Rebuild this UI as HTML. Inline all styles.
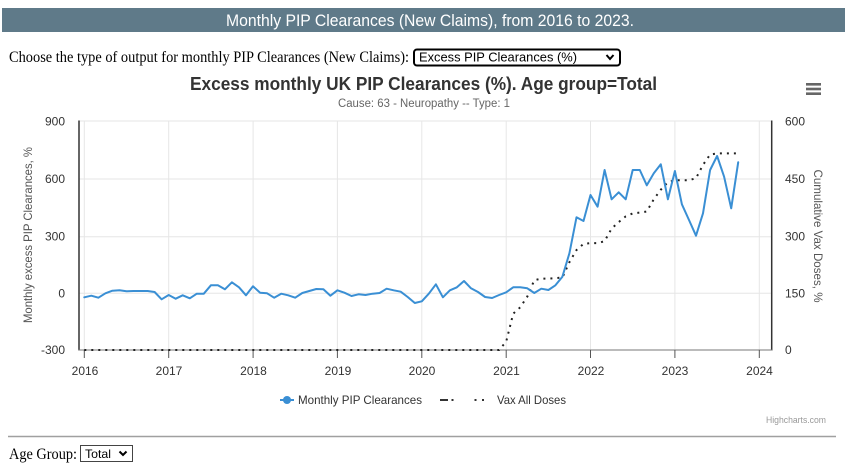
<!DOCTYPE html>
<html>
<head>
<meta charset="utf-8">
<style>
html,body{margin:0;padding:0;background:#fff;}
svg{display:block;}
</style>
</head>
<body>
<svg width="849" height="469" viewBox="0 0 849 469" xmlns="http://www.w3.org/2000/svg">
  <!-- Header bar -->
  <rect x="2" y="8" width="843" height="24" fill="#5f7a89"/>
  <text x="430" y="26" fill="#ffffff" font-family="Liberation Sans Narrow, Liberation Sans, sans-serif" font-size="17" text-anchor="middle" textLength="408" lengthAdjust="spacingAndGlyphs">Monthly PIP Clearances (New Claims), from 2016 to 2023.</text>

  <!-- Choose line -->
  <text x="9" y="62" fill="#000" font-family="Liberation Serif, serif" font-size="16" textLength="400" lengthAdjust="spacingAndGlyphs">Choose the type of output for monthly PIP Clearances (New Claims):</text>
  <rect x="414" y="49.5" width="206" height="16" rx="3" fill="#fff" stroke="#000" stroke-width="2"/>
  <text x="419" y="61.5" fill="#000" font-family="Liberation Sans, sans-serif" font-size="12.5" textLength="158" lengthAdjust="spacingAndGlyphs">Excess PIP Clearances (%)</text>
  <polyline points="606.5,55 610,59 613.5,55" fill="none" stroke="#000" stroke-width="2"/>

  <!-- Chart title -->
  <text x="423.5" y="90" fill="#333" font-family="Liberation Sans, sans-serif" font-size="18" font-weight="bold" text-anchor="middle" textLength="467" lengthAdjust="spacingAndGlyphs">Excess monthly UK PIP Clearances (%). Age group=Total</text>
  <text x="424" y="107" fill="#666" font-family="Liberation Sans, sans-serif" font-size="11.5" text-anchor="middle" textLength="172" lengthAdjust="spacingAndGlyphs">Cause: 63 - Neuropathy -- Type: 1</text>

  <!-- Hamburger -->
  <rect x="806" y="83" width="15" height="2.6" fill="#666"/>
  <rect x="806" y="87.7" width="15" height="2.6" fill="#666"/>
  <rect x="806" y="92.4" width="15" height="2.6" fill="#666"/>

  <!-- Grid lines -->
  <g stroke="#e6e6e6" stroke-width="1">
    <line x1="79" y1="121" x2="771.7" y2="121"/>
    <line x1="79" y1="179" x2="771.7" y2="179"/>
    <line x1="79" y1="236.7" x2="771.7" y2="236.7"/>
    <line x1="79" y1="293.3" x2="771.7" y2="293.3"/>
    <line x1="84.3" y1="121" x2="84.3" y2="350"/>
    <line x1="168.7" y1="121" x2="168.7" y2="350"/>
    <line x1="253.1" y1="121" x2="253.1" y2="350"/>
    <line x1="337.4" y1="121" x2="337.4" y2="350"/>
    <line x1="421.8" y1="121" x2="421.8" y2="350"/>
    <line x1="506.2" y1="121" x2="506.2" y2="350"/>
    <line x1="590.5" y1="121" x2="590.5" y2="350"/>
    <line x1="674.9" y1="121" x2="674.9" y2="350"/>
    <line x1="759.3" y1="121" x2="759.3" y2="350"/>
  </g>

  <!-- Axis lines -->
  <line x1="79" y1="120.5" x2="79" y2="350.5" stroke="#333" stroke-width="1.5"/>
  <line x1="771.7" y1="120.5" x2="771.7" y2="350.5" stroke="#333" stroke-width="1.5"/>
  <line x1="78.5" y1="350" x2="772" y2="350" stroke="#777" stroke-width="1"/>
  <g stroke="#555" stroke-width="1">
    <line x1="84.3" y1="350" x2="84.3" y2="358"/>
    <line x1="168.7" y1="350" x2="168.7" y2="358"/>
    <line x1="253.1" y1="350" x2="253.1" y2="358"/>
    <line x1="337.4" y1="350" x2="337.4" y2="358"/>
    <line x1="421.8" y1="350" x2="421.8" y2="358"/>
    <line x1="506.2" y1="350" x2="506.2" y2="358"/>
    <line x1="590.5" y1="350" x2="590.5" y2="358"/>
    <line x1="674.9" y1="350" x2="674.9" y2="358"/>
    <line x1="759.3" y1="350" x2="759.3" y2="358"/>
  </g>

  <!-- Left axis labels -->
  <g font-family="Liberation Sans, sans-serif" font-size="12" fill="#333" text-anchor="end">
    <text x="65" y="125.5">900</text>
    <text x="65" y="183">600</text>
    <text x="65" y="240.7">300</text>
    <text x="65" y="297.3">0</text>
    <text x="65" y="354">-300</text>
  </g>
  <!-- Right axis labels -->
  <g font-family="Liberation Sans, sans-serif" font-size="12" fill="#333" text-anchor="start">
    <text x="785" y="125.5">600</text>
    <text x="785" y="183">450</text>
    <text x="785" y="240.7">300</text>
    <text x="785" y="297.3">150</text>
    <text x="785" y="354">0</text>
  </g>
  <!-- X labels -->
  <g font-family="Liberation Sans, sans-serif" font-size="12" fill="#333" text-anchor="middle">
    <text x="85" y="375">2016</text>
    <text x="169" y="375">2017</text>
    <text x="253.5" y="375">2018</text>
    <text x="338" y="375">2019</text>
    <text x="422" y="375">2020</text>
    <text x="506.5" y="375">2021</text>
    <text x="591" y="375">2022</text>
    <text x="675" y="375">2023</text>
    <text x="759.5" y="375">2024</text>
  </g>

  <!-- Axis titles -->
  <text transform="translate(32,235) rotate(-90)" font-family="Liberation Sans, sans-serif" font-size="12" fill="#555" text-anchor="middle" textLength="176" lengthAdjust="spacingAndGlyphs">Monthly excess PIP Clearances, %</text>
  <text transform="translate(814,236) rotate(90)" font-family="Liberation Sans, sans-serif" font-size="12" fill="#555" text-anchor="middle" textLength="133" lengthAdjust="spacingAndGlyphs">Cumulative Vax Doses, %</text>

  <!-- Vax dotted series -->
  <polyline fill="none" stroke="#222" stroke-width="2" stroke-dasharray="2,5"
    points="84.3,350 499.1,350 506.2,341.6 513.2,313.7 520.2,307.3 527.3,296.6 534.3,280.2 541.3,278.6 548.4,278.6 555.4,278.2 562.4,277.5 569.4,262.2 576.5,250.0 583.5,243.9 590.5,243.1 597.6,243.1 604.6,241.2 611.6,228.6 618.7,222.1 625.7,216.4 632.7,213.4 639.8,212.6 646.8,211.5 653.8,199.2 660.8,189.7 667.9,182.1 674.9,180.2 681.9,180.2 689.0,180.2 696.0,178.2 703.0,164.9 710.1,154.6 717.1,153.4 724.1,153.4 731.2,153.4 738.2,153.4"/>

  <!-- Blue series -->
  <polyline fill="none" stroke="#3a8fd4" stroke-width="2" stroke-linejoin="round" stroke-linecap="round"
    points="84.3,297.3 91.3,295.7 98.4,297.7 105.4,293.3 112.4,290.7 119.5,290.3 126.5,291.3 133.5,291.0 140.5,291.0 147.6,291.0 154.6,292.0 161.6,299.3
168.7,295.0 175.7,298.7 182.7,295.3 189.8,298.3 196.8,293.7 203.8,293.7 210.9,285.3 217.9,285.3 224.9,289.3 231.9,282.3 239.0,287.3 246.0,295.3
253.0,286.3 260.1,292.7 267.1,293.3 274.1,297.7 281.2,293.7 288.2,295.3 295.2,297.7 302.3,293.0 309.3,291.0 316.3,289.0 323.4,289.3 330.4,295.7
337.4,290.3 344.4,292.7 351.5,296.0 358.5,294.3 365.5,295.0 372.6,293.7 379.6,293.0 386.6,288.7 393.7,290.3 400.7,291.7 407.7,297.0 414.8,303.0
421.8,301.3 428.8,293.7 435.9,284.3 442.9,297.3 449.9,290.3 456.9,287.3 464.0,281.0 471.0,288.3 478.0,292.0 485.1,297.0 492.1,298.0 499.1,295.0
506.2,292.3 513.2,287.3 520.2,287.3 527.3,288.3 534.3,293.0 541.3,288.7 548.4,290.0 555.4,285.3 562.4,276.7 569.4,253.3 576.5,217.3 583.5,221.0
590.5,195.0 597.6,206.7 604.6,170.0 611.6,199.3 618.7,192.3 625.7,199.3 632.7,170.0 639.8,170.0 646.8,185.3 653.8,173.3 660.8,164.3 667.9,199.3
674.9,171.0 681.9,204.3 689.0,220.0 696.0,235.7 703.0,213.3 710.1,170.0 717.1,156.0 724.1,176.7 731.2,208.3 738.2,162.3"/>

  <!-- Legend -->
  <line x1="280" y1="400" x2="294" y2="400" stroke="#3a8fd4" stroke-width="2"/>
  <circle cx="287" cy="400" r="4" fill="#3a8fd4"/>
  <text x="298" y="404" font-family="Liberation Sans, sans-serif" font-size="12" fill="#333" textLength="124" lengthAdjust="spacingAndGlyphs">Monthly PIP Clearances</text>
  <line x1="440" y1="400" x2="448" y2="400" stroke="#333" stroke-width="2"/>
  <rect x="451.5" y="399" width="2" height="2" fill="#333"/>
  <rect x="474.5" y="399" width="2" height="2" fill="#333"/>
  <rect x="482" y="399" width="2" height="2" fill="#333"/>
  <text x="497" y="404" font-family="Liberation Sans, sans-serif" font-size="12" fill="#333" textLength="69" lengthAdjust="spacingAndGlyphs">Vax All Doses</text>

  <!-- Credits -->
  <text x="826" y="423" font-family="Liberation Sans, sans-serif" font-size="9" fill="#999" text-anchor="end" textLength="60" lengthAdjust="spacingAndGlyphs">Highcharts.com</text>

  <!-- HR -->
  <line x1="8" y1="436.5" x2="836" y2="436.5" stroke="#a0a0a0" stroke-width="1.5"/>

  <!-- Age group -->
  <text x="9" y="459" font-family="Liberation Serif, serif" font-size="16" fill="#000" textLength="68" lengthAdjust="spacingAndGlyphs">Age Group:</text>
  <rect x="80.5" y="445.5" width="52" height="16" fill="#fff" stroke="#444" stroke-width="1"/>
  <text x="85" y="458" font-family="Liberation Sans, sans-serif" font-size="12" fill="#000" textLength="26" lengthAdjust="spacingAndGlyphs">Total</text>
  <polyline points="119.5,451.5 123,455 126.5,451.5" fill="none" stroke="#000" stroke-width="2"/>
</svg>
</body>
</html>
